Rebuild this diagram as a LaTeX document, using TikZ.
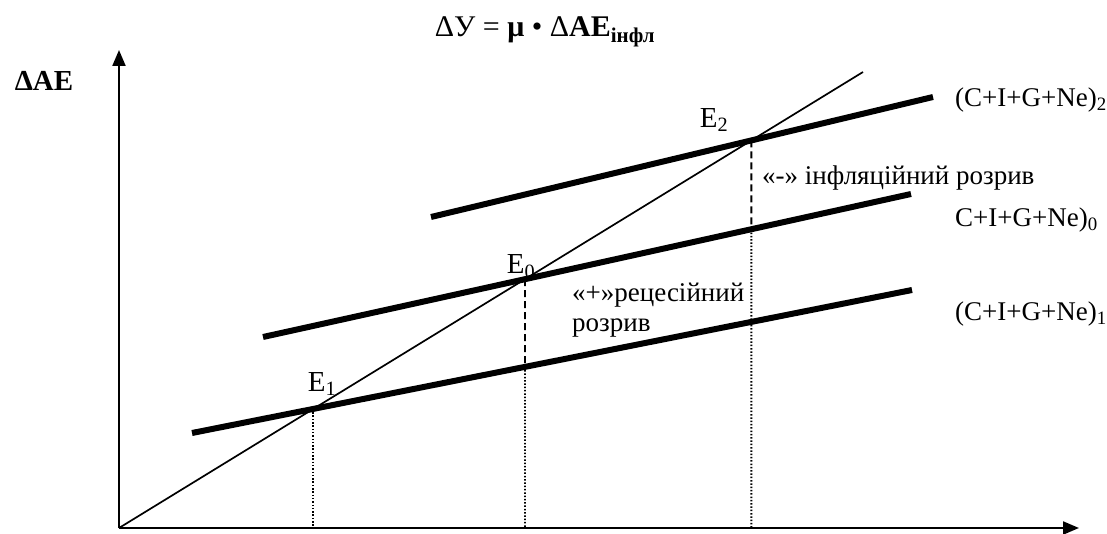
\documentclass[tikz,border=0pt]{standalone}
\usepackage{fontspec}
\setmainfont{Liberation Serif}
\usetikzlibrary{arrows.meta}
\begin{document}
\begin{tikzpicture}[x=1pt,y=-1pt,
  axis/.style={line width=2.2pt,-{Triangle[length=16pt,width=13pt]}},
  aeline/.style={line width=6pt},
  diag/.style={line width=1.7pt},
  dashv/.style={line width=1.8pt,dash pattern=on 7pt off 4pt},
  dotv/.style={line width=1.9pt,dash pattern=on 1.5pt off 1.8pt},
  lbl/.style={font=\fontsize{27}{32}\selectfont,inner sep=0pt},
  elbl/.style={font=\fontsize{29}{34}\selectfont,inner sep=0pt},
]
\useasboundingbox (0,0) rectangle (1107,534);
% coordinates
\coordinate (O) at (119,528);
\coordinate (Ytip) at (119,50);
\coordinate (Xtip) at (1079,528);
\coordinate (Dend) at (863,72);
\coordinate (A1s) at (192,433);
\coordinate (A1e) at (912,290);
\coordinate (A0s) at (263,337);
\coordinate (A0e) at (911,194);
\coordinate (A2s) at (431,217);
\coordinate (A2e) at (933,97);
\coordinate (E1) at (intersection of A1s--A1e and O--Dend);
\coordinate (E0) at (intersection of A0s--A0e and O--Dend);
\coordinate (E2) at (intersection of A2s--A2e and O--Dend);
\coordinate (B1) at (E1 |- O);
\coordinate (B0) at (E0 |- O);
\coordinate (B2) at (E2 |- O);
\coordinate (M0) at (intersection of A1s--A1e and E0--B0);
\coordinate (M2) at (intersection of A0s--A0e and E2--B2);
% axes
\draw[axis] (O) -- (Ytip);
\draw[axis] (O) -- (Xtip);
% diagonal
\draw[diag] (O) -- (Dend);
% AE lines
\draw[aeline] (A1s) -- (A1e);
\draw[aeline] (A0s) -- (A0e);
\draw[aeline] (A2s) -- (A2e);
% verticals
\draw[dotv] (E1) -- (B1);
\draw[dashv] (E0) -- (M0);
\draw[dotv] (M0) -- (B0);
\draw[dashv] (E2) -- (M2);
\draw[dotv] (M2) -- (B2);
% texts
\node[font=\fontsize{30}{35}\selectfont,inner sep=0pt] (title) at (545,32) {ΔУ = \textbf{μ} • Δ\textbf{AE}\textsubscript{\textbf{інфл}}};
\node[font=\fontsize{29}{34}\selectfont\bfseries,inner sep=0pt] (yl) at (44,81) {Δ\textbf{AE}};
\node[elbl] (le2) at (714,120) {E\textsubscript{2}};
\node[elbl] (le0) at (521,267) {E\textsubscript{0}};
\node[elbl] (le1) at (322,384) {E\textsubscript{1}};
\node[lbl,anchor=west] (l2) at (955,100) {(C+I+G+Ne)\textsubscript{2}};
\node[lbl,anchor=west] (l0) at (955,220) {C+I+G+Ne)\textsubscript{0}};
\node[lbl,anchor=west] (l1) at (955,314) {(C+I+G+Ne)\textsubscript{1}};
\node[lbl,anchor=west] (infl) at (762,178) {«-» інфляційний розрив};
\node[lbl,anchor=west] (rec1) at (572,295) {«+»рецесійний};
\node[lbl,anchor=west] (rec2) at (572,328) {розрив};
\end{tikzpicture}
\end{document}
